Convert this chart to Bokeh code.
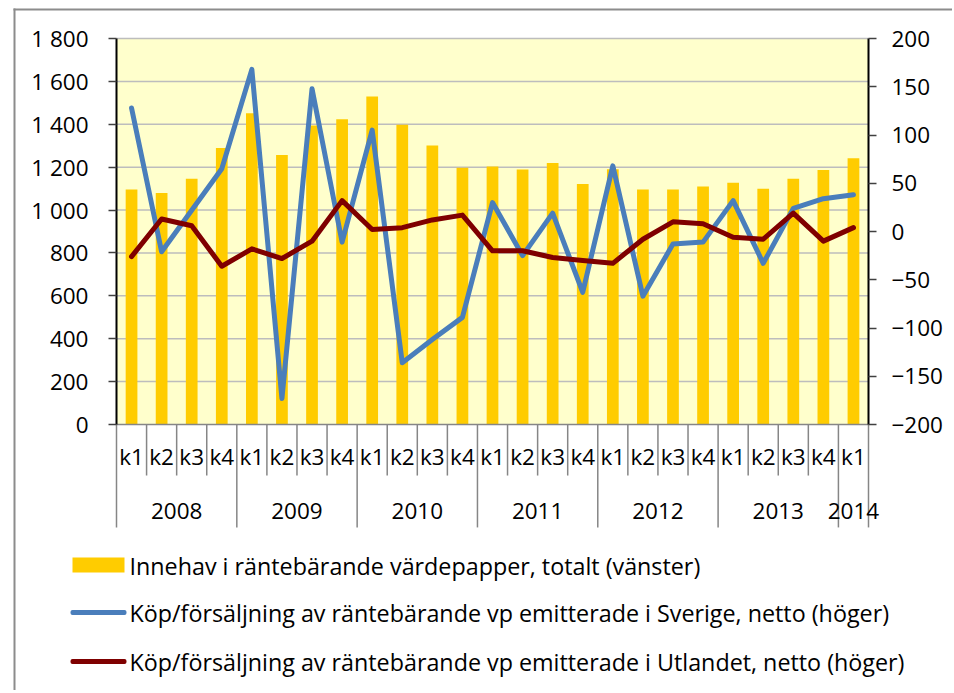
from bokeh.plotting import figure
from bokeh.models import (Range1d, LinearAxis, FixedTicker, BoxAnnotation, Label,
                          LabelSet, ColumnDataSource)
from bokeh.core.properties import value
from bokeh.embed import file_html
from bokeh.resources import INLINE

# ---------------- data ----------------
years = ["2008", "2009", "2010", "2011", "2012", "2013", "2014"]
quarters_per_year = [4, 4, 4, 4, 4, 4, 1]
quarters = ["k1", "k2", "k3", "k4"] * 6 + ["k1"]

holdings = [1096, 1080, 1146, 1289, 1452, 1257, 1394, 1424, 1530, 1398, 1301, 1197,
            1203, 1189, 1220, 1122, 1190, 1096, 1096, 1110, 1127, 1099, 1146, 1187, 1242]
sverige = [128, -21, 22, 65, 168, -173, 148, -11, 105, -136, -112, -89,
           30, -25, 19, -63, 68, -67, -13, -11, 32, -33, 24, 34, 38]
utlandet = [-26, 13, 6, -36, -18, -28, -10, 32, 2, 4, 12, 17,
            -20, -20, -27, -30, -33, -8, 10, 8, -6, -8, 19, -10, 4]

left_ticks = [0, 200, 400, 600, 800, 1000, 1200, 1400, 1600, 1800]
left_labels = ["0", "200", "400", "600", "800", "1 000", "1 200", "1 400", "1 600", "1 800"]
right_ticks = [-200, -150, -100, -50, 0, 50, 100, 150, 200]

legend_labels = [
    "Innehav i räntebärande värdepapper, totalt (vänster)",
    "Köp/försäljning av räntebärande vp emitterade i Sverige, netto (höger)",
    "Köp/försäljning av räntebärande vp emitterade i Utlandet, netto (höger)",
]

BAR_COLOR = "#FFCC00"
BLUE = "#4A7EBB"
RED = "#7F0000"
GRID = "#BDBDBD"
CAT_LINE = "#868686"
BORDER = "#8C8C8C"

# ---------------- layout (canvas pixels) ----------------
FONT = "Open Sans"
FS = "22.5px"
LEG_FS = "23.3px"
W, H = 952, 690
PLOT_L, PLOT_R, PLOT_T, PLOT_B = 116.0, 868.0, 38.0, 424.0
YMAX = 1800.0
n = len(quarters)
px_x = (PLOT_R - PLOT_L) / n
px_y = (PLOT_B - PLOT_T) / YMAX
x_start = -PLOT_L / px_x
x_end = n + (W - PLOT_R) / px_x
y_end = YMAX + PLOT_T / px_y
y_start = YMAX - (H - PLOT_T) / px_y
r_per = 400.0 / YMAX

xc = [i + 0.5 for i in range(n)]


def sy(py):
    return H - py


p = figure(width=W, height=H, output_backend="svg", toolbar_location=None,
           x_range=Range1d(x_start, x_end), y_range=Range1d(y_start, y_end),
           min_border=0, x_axis_location=None, y_axis_location="left")
p.outline_line_color = None
p.background_fill_color = "white"
p.border_fill_color = "white"
p.xgrid.visible = False
p.ygrid.visible = False

# plot area background
p.add_layout(BoxAnnotation(left=0, right=n, bottom=0, top=YMAX, fill_color="#FFFFCC",
                           fill_alpha=1, line_color=None, level="image"))

# left axis
ya = p.yaxis[0]
ya.fixed_location = 0
ya.ticker = FixedTicker(ticks=left_ticks)
ya.bounds = (0, YMAX)
ya.major_label_overrides = {t: l for t, l in zip(left_ticks, left_labels)}
ya.axis_line_color = "black"
ya.axis_line_width = 2
ya.major_tick_out = 8
ya.major_tick_in = 0
ya.major_tick_line_color = "#404040"
ya.major_tick_line_width = 1.5
ya.minor_tick_line_color = None
ya.major_label_standoff = 20
ya.major_label_text_font = FONT
ya.major_label_text_font_size = FS
ya.major_label_text_color = "black"

# right axis
p.extra_y_ranges = {"r": Range1d(-200 + y_start * r_per, -200 + y_end * r_per)}
ra = LinearAxis(y_range_name="r", ticker=FixedTicker(ticks=right_ticks), bounds=(-200, 200))
ra.fixed_location = n
ra.axis_line_color = "black"
ra.axis_line_width = 2
ra.major_tick_out = 8
ra.major_tick_in = 0
ra.major_tick_line_color = "#404040"
ra.major_tick_line_width = 1.5
ra.minor_tick_line_color = None
ra.major_label_standoff = 15
ra.major_label_text_font = FONT
ra.major_label_text_font_size = FS
ra.major_label_text_color = "black"
p.add_layout(ra, "right")

# horizontal gridlines within plot area
g_ticks = [t for t in left_ticks if t > 0]
p.segment(x0=[0] * len(g_ticks), x1=[n] * len(g_ticks), y0=g_ticks, y1=g_ticks,
          line_color=GRID, line_width=1.5)

bars = p.vbar(x=xc, top=holdings, bottom=0, width=0.39, fill_color=BAR_COLOR,
              line_color=None)
l1 = p.line(x=xc, y=sverige, y_range_name="r", line_width=5, line_color=BLUE,
            line_join="round", line_cap="round")
l2 = p.line(x=xc, y=utlandet, y_range_name="r", line_width=5, line_color=RED,
            line_join="round", line_cap="round")

# category axis (two levels)
p.segment(x0=[0], x1=[n], y0=[0], y1=[0], line_color=CAT_LINE, line_width=1.5)
bounds_year = [0]
for c in quarters_per_year:
    bounds_year.append(bounds_year[-1] + c)
q_sep = [i for i in range(1, n) if i not in bounds_year]
short_depth = -238
long_depth = -480
p.segment(x0=q_sep, y0=[0] * len(q_sep), x1=q_sep, y1=[short_depth] * len(q_sep),
          line_color=CAT_LINE, line_width=1.5)
p.segment(x0=bounds_year, y0=[0] * len(bounds_year), x1=bounds_year,
          y1=[long_depth] * len(bounds_year), line_color=CAT_LINE, line_width=1.5)

qsrc = ColumnDataSource(dict(x=xc, y=[-150] * n, t=quarters))
p.add_layout(LabelSet(x="x", y="y", text="t", source=qsrc, text_align="center",
                      text_baseline="middle", text_font=value(FONT), text_font_size=FS,
                      text_color="black"))
year_x = [(bounds_year[i] + bounds_year[i + 1]) / 2 for i in range(len(years))]
ysrc = ColumnDataSource(dict(x=year_x, y=[-404] * len(years), t=years))
p.add_layout(LabelSet(x="x", y="y", text="t", source=ysrc, text_align="center",
                      text_baseline="middle", text_font=value(FONT), text_font_size=FS,
                      text_color="black"))

# outer chart border (left and top edges)
p.add_layout(BoxAnnotation(left=13, right=15, top=sy(8), bottom=sy(H + 5),
                           left_units="screen", right_units="screen", top_units="screen",
                           bottom_units="screen", fill_color=BORDER, fill_alpha=1,
                           line_color=None))
p.add_layout(BoxAnnotation(left=13, right=W + 5, top=sy(8), bottom=sy(10),
                           left_units="screen", right_units="screen", top_units="screen",
                           bottom_units="screen", fill_color=BORDER, fill_alpha=1,
                           line_color=None))

# legend
row_y = [565, 612, 661]
p.add_layout(BoxAnnotation(left=72, right=124, top=sy(557), bottom=sy(572),
                           left_units="screen", right_units="screen", top_units="screen",
                           bottom_units="screen", fill_color=BAR_COLOR, fill_alpha=1,
                           line_color=None))
for yy, col in zip(row_y[1:], [BLUE, RED]):
    p.add_layout(BoxAnnotation(left=70, right=126, top=sy(yy - 2.5), bottom=sy(yy + 2.5),
                               left_units="screen", right_units="screen",
                               top_units="screen", bottom_units="screen",
                               fill_color=col, fill_alpha=1, line_color=None,
                               border_radius=2))
for yy, lab in zip(row_y, legend_labels):
    p.add_layout(Label(x=129, y=sy(yy), x_units="screen", y_units="screen",
                       text=lab, text_align="left", text_baseline="middle",
                       text_font=FONT, text_font_size=LEG_FS, text_color="black"))

open("out.html", "w").write(file_html(p, INLINE))
